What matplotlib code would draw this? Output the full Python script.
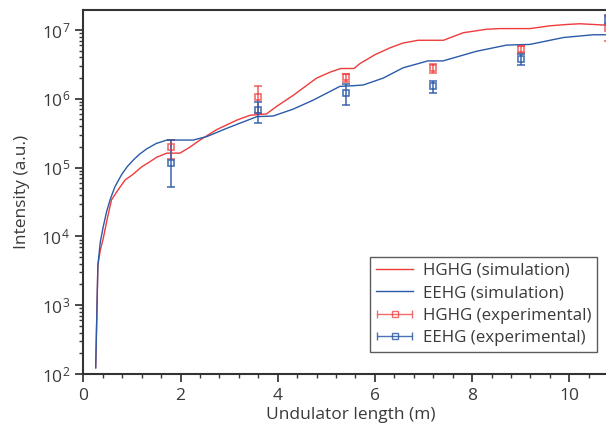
import numpy as np
import matplotlib
matplotlib.use("Agg")
import matplotlib.pyplot as plt
from matplotlib.ticker import MultipleLocator, LogLocator, NullFormatter
from matplotlib.legend_handler import HandlerErrorbar

# ---- data (log10 intensity) ----
hghg_sim_x = [0.255, 0.30, 0.35, 0.41, 0.50, 0.58, 0.70, 0.86, 1.02, 1.20, 1.36, 1.51, 1.72,
              1.99, 2.20, 2.40, 2.74, 3.16, 3.43, 3.77, 3.98, 4.32, 4.53, 4.80, 5.09, 5.30,
              5.57, 5.69, 6.00, 6.31, 6.58, 6.89, 7.41, 7.82, 8.30, 8.57, 9.19, 9.60, 9.95,
              10.22, 10.75]
hghg_sim_log = [2.09, 3.58, 3.80, 3.97, 4.28, 4.53, 4.66, 4.82, 4.90, 5.01, 5.08, 5.15, 5.21,
                5.21, 5.30, 5.40, 5.55, 5.69, 5.76, 5.78, 5.89, 6.05, 6.16, 6.30, 6.39, 6.44,
                6.44, 6.51, 6.64, 6.74, 6.81, 6.85, 6.85, 6.96, 7.01, 7.02, 7.02, 7.06, 7.08,
                7.09, 7.07]

eehg_sim_x = [0.255, 0.30, 0.35, 0.41, 0.48, 0.55, 0.65, 0.79, 0.90, 1.03, 1.15, 1.30, 1.50,
              1.72, 2.26, 2.54, 2.95, 3.57, 3.91, 4.32, 4.73, 5.28, 5.56, 5.76, 6.17, 6.58,
              7.09, 7.40, 8.09, 8.71, 9.19, 9.88, 10.49, 10.75]
eehg_sim_log = [2.09, 3.58, 3.92, 4.14, 4.36, 4.53, 4.72, 4.90, 5.01, 5.11, 5.19, 5.27, 5.35,
                5.40, 5.40, 5.45, 5.57, 5.74, 5.75, 5.85, 5.98, 6.18, 6.19, 6.20, 6.30, 6.45,
                6.55, 6.55, 6.69, 6.78, 6.79, 6.89, 6.93, 6.93]

exp_x = [1.8, 3.6, 5.4, 7.2, 9.0, 10.8]
hghg_exp_log = [5.30, 6.03, 6.31, 6.44, 6.72, 7.03]
hghg_exp_lo = [5.13, 5.79, 6.25, 6.37, 6.67, 6.84]
hghg_exp_hi = [5.40, 6.19, 6.36, 6.50, 6.76, 7.20]
eehg_exp_log = [5.07, 5.83, 6.09, 6.19, 6.58, 7.15]
eehg_exp_lo = [4.72, 5.65, 5.91, 6.09, 6.49, 7.08]
eehg_exp_hi = [5.40, 5.95, 6.21, 6.26, 6.65, 7.22]

x_ticks = [0, 2, 4, 6, 8, 10]

# ---- styling ----
plt.rcParams['font.family'] = ['Open Sans', 'DejaVu Sans']
plt.rcParams['mathtext.fontset'] = 'custom'
plt.rcParams['mathtext.rm'] = 'Open Sans'
plt.rcParams['mathtext.it'] = 'Open Sans'
txt = '#3a3a3a'
red = '#ee3b3b'
blue = '#2b5aa8'

fig = plt.figure(figsize=(6.06, 4.29), dpi=100)
ax = fig.add_axes([83.3 / 606, 55 / 429, 11 * 48.6 / 606, 364 / 429])

ax.plot(hghg_sim_x, 10 ** np.array(hghg_sim_log), color=red, lw=1.0, label='HGHG (simulation)')
ax.plot(eehg_sim_x, 10 ** np.array(eehg_sim_log), color=blue, lw=1.0, label='EEHG (simulation)')

def err(y, lo, hi):
    y = 10 ** np.array(y)
    return y, np.vstack([y - 10 ** np.array(lo), 10 ** np.array(hi) - y])

ekw = dict(fmt='s', ms=5, mfc='none', mew=1.2, elinewidth=1.2, capsize=3, capthick=1.2)
y, e = err(hghg_exp_log, hghg_exp_lo, hghg_exp_hi)
ax.errorbar(exp_x, y, yerr=e, mec=red, ecolor=red, alpha=0.75, **ekw)
y, e = err(eehg_exp_log, eehg_exp_lo, eehg_exp_hi)
ax.errorbar(exp_x, y, yerr=e, mec=blue, ecolor=blue, alpha=0.85, **ekw)

# legend proxies: horizontal error bars as in the reference legend
hk = dict(fmt='s', ms=4, mfc='none', mew=1.0, elinewidth=1.0, capsize=3, capthick=1.0)
h3 = ax.errorbar([np.nan], [np.nan], xerr=[[1], [1]], mec=red, ecolor=red, alpha=0.75,
                 label='HGHG (experimental)', **hk)
h4 = ax.errorbar([np.nan], [np.nan], xerr=[[1], [1]], mec=blue, ecolor=blue, alpha=0.85,
                 label='EEHG (experimental)', **hk)

ax.set_yscale('log')
ax.set_xlim(0, 11)
ax.set_ylim(1e2, 10 ** 7.29)
ax.set_xticks(x_ticks)
ax.xaxis.set_minor_locator(MultipleLocator(0.4))
ax.yaxis.set_major_locator(LogLocator(base=10, numticks=10))
ax.yaxis.set_minor_locator(LogLocator(base=10, subs=np.arange(2, 10), numticks=20))
ax.yaxis.set_minor_formatter(NullFormatter())

ax.spines['right'].set_visible(False)
for s in ['left', 'bottom', 'top']:
    ax.spines[s].set_linewidth(1.5)
    ax.spines[s].set_color('#333333')
ax.tick_params(which='both', direction='out', colors=txt, labelsize=12.5)
ax.tick_params(which='major', length=6, width=1.3)
ax.tick_params(which='minor', length=3, width=1.0)
ax.tick_params(axis='x', pad=4)

ax.set_xlabel('Undulator length (m)', fontsize=12.5, color=txt, labelpad=2)
ax.set_ylabel('Intensity (a.u.)', fontsize=12.5, color=txt, labelpad=8)

leg = ax.legend(loc='lower right', bbox_to_anchor=((597 - 83.3) / (11 * 48.6), (374 - 352) / 364),
                fontsize=12.2, frameon=True, fancybox=False, edgecolor='#333333',
                handlelength=2.2, handletextpad=0.55, labelspacing=0.38, borderpad=0.35,
                borderaxespad=0,
                handler_map={h3: HandlerErrorbar(xerr_size=1.05),
                             h4: HandlerErrorbar(xerr_size=1.05)})
leg.get_frame().set_linewidth(1.0)
for t in leg.get_texts():
    t.set_color(txt)

fig.savefig('out.png', dpi=100)
